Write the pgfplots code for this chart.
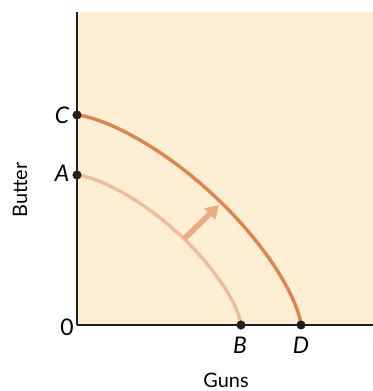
\documentclass[border=0pt]{standalone}
\usepackage{pgfplots}
\pgfplotsset{compat=1.18}
\usepackage{fontspec}
\setmainfont{Lato}
\usetikzlibrary{arrows.meta}

\definecolor{bgpeach}{HTML}{FEEFD4}
\definecolor{outercurve}{HTML}{E0844C}
\definecolor{innercurve}{HTML}{EFBD9A}
\definecolor{shiftarrow}{HTML}{EBAA80}
\definecolor{axisink}{HTML}{231F20}

\begin{document}
\begin{tikzpicture}
\begin{axis}[
  at={(0,0)}, anchor=south west,
  scale only axis,
  width=296bp, height=313bp,
  xmin=0, xmax=296, ymin=0, ymax=313,
  axis x line=bottom, axis y line=left,
  axis line style={-, line width=2.2bp, color=axisink},
  xtick=\empty, ytick=\empty,
  axis background/.style={fill=bgpeach},
  clip=false,
]
% original production possibilities frontier (A to B)
\addplot[innercurve, line width=3.4bp, smooth] coordinates {
  (164,0) (163.1,4.8) (160.5,12.8) (156.2,22.4) (150.3,33.1) (142.8,44.6)
  (133.9,56.5) (123.8,68.6) (112.7,80.5) (100.7,92.1) (88.0,103.1)
  (75.0,113.3) (61.8,122.5) (48.8,130.6) (36.2,137.4) (24.5,142.9)
  (13.9,146.8) (5.3,149.2) (0,150)
};
% expanded frontier (C to D)
\addplot[outercurve, line width=3.4bp, smooth] coordinates {
  (224,0) (222.8,6.8) (219.2,17.9) (213.3,31.3) (205.2,46.3) (195.0,62.5)
  (182.9,79.1) (169.1,96.0) (153.9,112.7) (137.5,128.9) (120.2,144.3)
  (102.4,158.6) (84.4,171.5) (66.6,182.8) (49.4,192.4) (33.4,200.0)
  (19.0,205.5) (7.2,208.9) (0,210)
};
% outward shift
\addplot[shiftarrow, line width=5.5bp,
  -{Triangle[length=13bp, width=15bp]}] coordinates {(107,86) (142,120)};
% end points on the axes
\addplot[only marks, mark=*, mark size=4.3bp, color=axisink]
  coordinates {(0,150) (0,210) (164,0) (224,0)};

\node[font=\fontsize{23}{23}\selectfont\itshape] at (axis cs:-15,210) {C};
\node[font=\fontsize{23}{23}\selectfont\itshape] at (axis cs:-15,152) {A};
\node[font=\fontsize{23}{23}\selectfont\itshape] at (axis cs:163,-20) {B};
\node[font=\fontsize{23}{23}\selectfont\itshape] at (axis cs:224,-20) {D};
\node[font=\fontsize{23}{23}\selectfont] at (axis cs:-10,-2) {0};
\node[font=\fontsize{20}{20}\selectfont, rotate=90] at (axis cs:-57,135) {Butter};
\node[font=\fontsize{20}{20}\selectfont] at (axis cs:149,-55) {Guns};
\end{axis}
\pgfresetboundingbox
\path[use as bounding box] (-77bp,-66bp) rectangle (296bp,325bp);
\end{tikzpicture}
\end{document}
